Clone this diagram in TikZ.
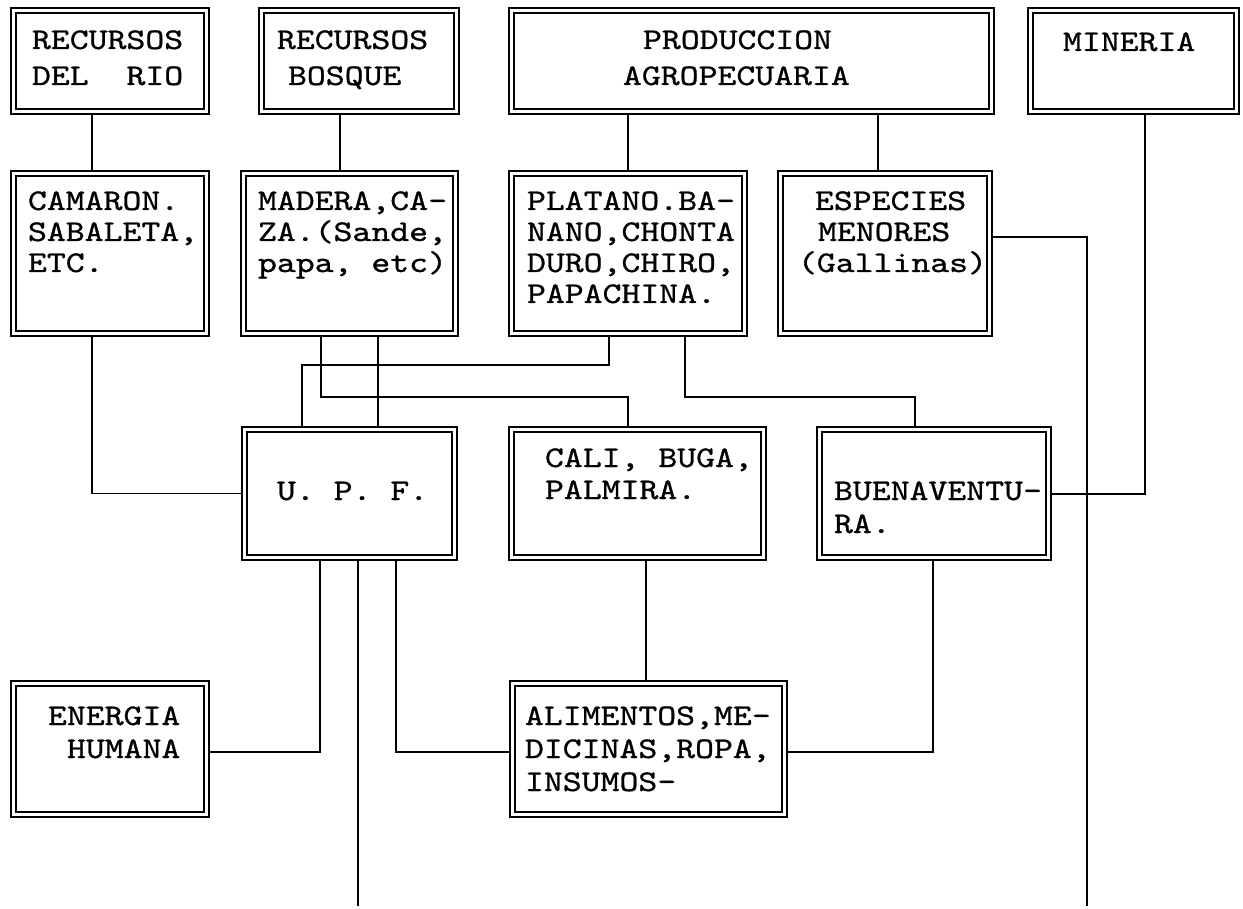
\documentclass[tikz,border=0pt]{standalone}
\usepackage{fontspec}
\newfontfamily\typ{lmmono10-regular.otf}[FakeStretch=1.2, FakeBold=0.9]
\tikzset{
  dbox/.style={rectangle, draw=black, double=white, double distance=3.5pt, line width=1.9pt, inner sep=0pt, outer sep=3.6pt},
  txt/.style={anchor=base west, inner sep=0pt, outer sep=0pt, font=\typ\fontsize{30}{32}\selectfont},
  conn/.style={draw=black, line width=1.9pt}
}
\newcommand\dbox[5]{%
  \pgfmathsetmacro\bw{#4-#2-7.3}\pgfmathsetmacro\bh{#5-#3-7.3}%
  \node[dbox, minimum width=\bw pt, minimum height=\bh pt] (#1) at ({(#2+#4)/2},{(#3+#5)/2}) {};}
\newcommand\tline[4]{\node[txt] (#1) at (#2,#3) {#4};}
\begin{document}
\begin{tikzpicture}[x=1pt,y=-1pt]
\fill[white] (0,0) rectangle (1243,909);
\useasboundingbox (0,0) rectangle (1243,909);
% row 1
\dbox{rio}{10}{7}{210}{115}
\dbox{bos}{258}{7}{460}{115}
\dbox{prod}{508}{7}{995}{115}
\dbox{min}{1027}{7}{1240}{115}
% row 2
\dbox{cam}{10}{170}{210}{337}
\dbox{mad}{240}{170}{459}{337}
\dbox{pla}{508}{170}{748}{337}
\dbox{esp}{777}{170}{993}{337}
% row 3
\dbox{upf}{241}{426}{458}{561}
\dbox{cal}{508}{426}{767}{561}
\dbox{bue}{816}{426}{1052}{561}
% row 4
\dbox{ene}{10}{680}{210}{818}
\dbox{ali}{509}{680}{788}{818}
% texts
\tline{t1}{32}{49}{RECURSOS}
\tline{t2}{32}{85}{DEL\ \ RIO}
\tline{t3}{277}{49}{RECURSOS}
\tline{t4}{288}{85}{BOSQUE}
\tline{t5}{643}{49}{PRODUCCION}
\tline{t6}{623}{85}{AGROPECUARIA}
\tline{t7}{1063}{51}{MINERIA}
\tline{t8}{28}{210}{CAMARON.}
\tline{t9}{28}{241}{SABALETA,}
\tline{t10}{28}{272}{ETC.}
\tline{t11}{258}{210}{MADERA,CA-}
\tline{t12}{258}{241}{ZA.(Sande,}
\tline{t13}{258}{272}{papa, etc)}
\tline{t14}{527}{210}{PLATANO.BA-}
\tline{t15}{527}{241}{NANO,CHONTA}
\tline{t16}{527}{272}{DURO,CHIRO,}
\tline{t17}{527}{303}{PAPACHINA.}
\tline{t18}{815}{210}{ESPECIES}
\tline{t19}{818}{241}{MENORES}
\tline{t20}{798}{272}{(Gallinas)}
\tline{t21}{277}{500}{U. P. F.}
\tline{t22}{545}{467}{CALI, BUGA,}
\tline{t23}{545}{499}{PALMIRA.}
\tline{t24}{834}{500}{BUENAVENTU-}
\tline{t25}{834}{533}{RA.}
\tline{t26}{48}{725}{ENERGIA}
\tline{t27}{67}{758}{HUMANA}
\tline{t28}{525}{725}{ALIMENTOS,ME-}
\tline{t29}{525}{758}{DICINAS,ROPA,}
\tline{t30}{525}{791}{INSUMOS-}
% junction coordinates
\coordinate (k1) at (92,0);
\coordinate (k2) at (340,0);
\coordinate (k3) at (628,0);
\coordinate (k4) at (878,0);
\coordinate (c321) at (321,0);
\coordinate (c378) at (378,0);
\coordinate (c646) at (646,0);
\coordinate (j1) at (628,397);
\coordinate (j2) at (609,365);
\coordinate (j3) at (302,365);
\coordinate (j4) at (685,397);
\coordinate (j5) at (915,397);
\coordinate (j6) at (1087,237);
\coordinate (e1) at (1087,906);
\coordinate (j7) at (1145,494);
\coordinate (j8) at (320,752);
\coordinate (e2) at (358,906);
\coordinate (j9) at (396,752);
\coordinate (j10) at (933,752);
% connectors
\draw[conn] (rio.south -| k1) -- (cam.north -| k1);
\draw[conn] (bos.south -| k2) -- (mad.north -| k2);
\draw[conn] (prod.south -| k3) -- (pla.north -| k3);
\draw[conn] (prod.south -| k4) -- (esp.north -| k4);
\draw[conn] (cam.south -| k1) |- (upf.west);
\draw[conn] (mad.south -| c321) |- (j1) -- (j1 |- cal.north);
\draw[conn] (mad.south -| c378) -- (upf.north -| c378);
\draw[conn] (pla.south -| j2) -- (j2) -- (j3) -- (j3 |- upf.north);
\draw[conn] (pla.south -| j4) -- (j4) -- (j5) -- (j5 |- bue.north);
\draw[conn] (esp.east |- j6) -- (j6) -- (e1);
\draw[conn] (min.south -| j7) -- (j7) -- (j7 -| bue.east);
\draw[conn] (upf.south -| j8) -- (j8) -- (j8 -| ene.east);
\draw[conn] (upf.south -| e2) -- (e2);
\draw[conn] (upf.south -| j9) -- (j9) -- (j9 -| ali.west);
\draw[conn] (cal.south -| c646) -- (ali.north -| c646);
\draw[conn] (bue.south -| j10) -- (j10) -- (j10 -| ali.east);
\end{tikzpicture}
\end{document}
